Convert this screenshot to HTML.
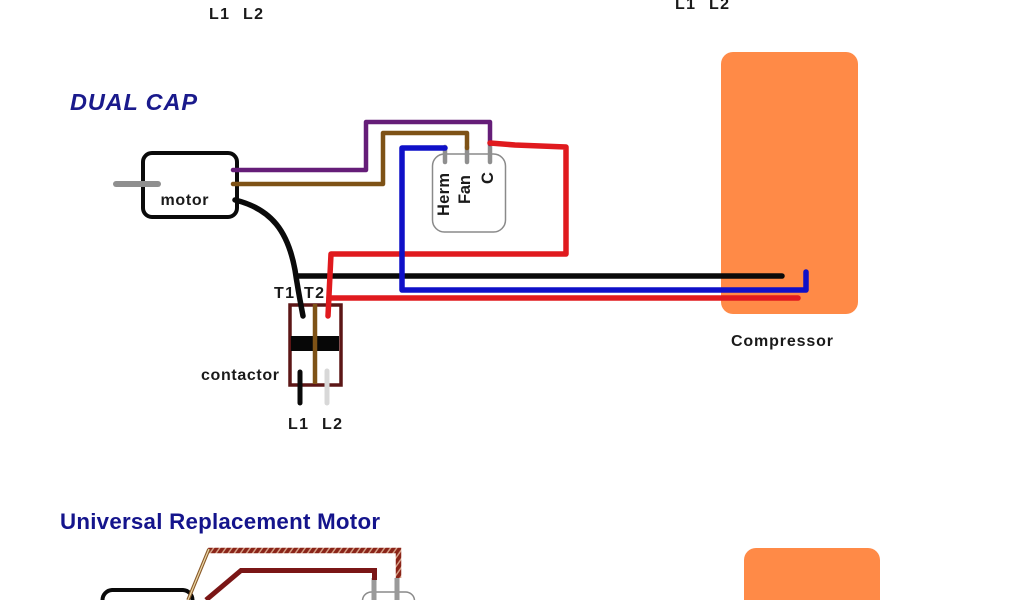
<!DOCTYPE html>
<html><head><meta charset="utf-8"><style>
html,body{margin:0;padding:0;background:#fff;width:1024px;height:600px;overflow:hidden}
svg{display:block}
text{font-family:"Liberation Sans",sans-serif;font-weight:bold;fill:#1a1a1a}
</style></head><body>
<svg width="1024" height="600" viewBox="0 0 1024 600" xmlns="http://www.w3.org/2000/svg">
<defs>
<pattern id="h" width="5" height="5" patternUnits="userSpaceOnUse" patternTransform="rotate(35)">
<rect width="5" height="5" fill="#d9a58c"/><rect width="3.6" height="5" fill="#8a2418"/>
</pattern>
</defs>
<rect width="1024" height="600" fill="#fff"/>
<g style="filter:blur(.35px)">
<!-- compressors -->
<rect x="721" y="52" width="137" height="262" rx="12" fill="#ff8a47"/>
<path d="M744 600V560a12 12 0 0 1 12-12H868a12 12 0 0 1 12 12V600Z" fill="#ff8a47"/>

<!-- top labels -->
<text x="209" y="19" font-size="16" textLength="20">L1</text>
<text x="243" y="19" font-size="16" textLength="20">L2</text>
<text x="675" y="9" font-size="16" textLength="20">L1</text>
<text x="709" y="9" font-size="16" textLength="20">L2</text>

<text x="70" y="110" font-size="23.500" style="fill:#1a1a8c;font-style:italic" textLength="127">DUAL CAP</text>

<!-- motor -->
<rect x="143" y="153" width="94" height="64" rx="9" fill="#fff" stroke="#0a0a0a" stroke-width="4"/>
<line x1="116" y1="184" x2="158" y2="184" stroke="#8f8f8f" stroke-width="6" stroke-linecap="round"/>
<text x="160.500" y="205" font-size="16" textLength="48">motor</text>

<!-- capacitor -->
<rect x="432.500" y="154" width="73" height="78" rx="12" fill="#fff" stroke="#8a8a8a" stroke-width="1.500"/>
<g stroke="#8f8f8f" stroke-width="4.500" stroke-linecap="round" fill="none">
<line x1="445" y1="147" x2="445" y2="162"/>
<line x1="467" y1="147" x2="467" y2="162"/>
<line x1="490" y1="143" x2="490" y2="162"/>
</g>
<text transform="translate(449,216) rotate(-90)" font-size="16.500" textLength="43">Herm</text>
<text transform="translate(470,204) rotate(-90)" font-size="16.500" textLength="29">Fan</text>
<text transform="translate(493,184) rotate(-90)" font-size="16.500">C</text>

<!-- contactor -->
<rect x="290" y="305" width="51" height="80" fill="#fff" stroke="#5c1616" stroke-width="3.500"/>
<rect x="291" y="336" width="48" height="15" fill="#070707"/>
<line x1="315" y1="304" x2="315" y2="384" stroke="#7e5216" stroke-width="4.500"/>
<line x1="300" y1="372" x2="300" y2="403" stroke="#0a0a0a" stroke-width="5" stroke-linecap="round"/>
<line x1="327" y1="371" x2="327" y2="403" stroke="#d8d8d8" stroke-width="5" stroke-linecap="round"/>
<text x="274" y="298" font-size="16" textLength="20">T1</text>
<text x="304" y="298" font-size="16" textLength="20">T2</text>
<text x="201" y="380" font-size="16" textLength="78">contactor</text>
<text x="288" y="429" font-size="16" textLength="20">L1</text>
<text x="322" y="429" font-size="16" textLength="20">L2</text>
<text x="731" y="346" font-size="16" textLength="102">Compressor</text>

<!-- wires -->
<g fill="none" stroke-linejoin="round" stroke-linecap="round">
<path d="M233 170H366V122H490V144" stroke="#651d78" stroke-width="4.500"/>
<path d="M233 184H383V133H467V148" stroke="#7e5216" stroke-width="4.500"/>
<path d="M235 200C272 209 288 232 295 270C298 290 300 300 303 316" stroke="#0a0a0a" stroke-width="5.500"/>
<path d="M297 276H782" stroke="#0a0a0a" stroke-width="5.500"/>
<path d="M490 143L515 145L566 147V254H331L328 316" stroke="#e01a1e" stroke-width="5.500"/>
<path d="M329 298H798" stroke="#e01a1e" stroke-width="5.500"/>
<path d="M445 148H402V290H806V272" stroke="#0f10c8" stroke-width="5.500"/>
</g>

<!-- bottom section -->
<text x="60" y="529" font-size="22.300" style="fill:#14148c" textLength="320">Universal Replacement Motor</text>
<path d="M102.500 600A10 10 0 0 1 112 590H183A10 10 0 0 1 192.500 600" fill="#fff" stroke="#0a0a0a" stroke-width="4"/>
<path d="M362.500 600A9 9 0 0 1 372 592H405A9 9 0 0 1 414.500 600" fill="#fff" stroke="#8a8a8a" stroke-width="1.500"/>
<g fill="none" stroke-linecap="butt" stroke-linejoin="miter">
<path d="M374 578V600M397 578V600" stroke="#9a9a9a" stroke-width="5"/>
<path d="M206 600L241 570.500H374.500V580" stroke="#7a1616" stroke-width="5"/>
<path d="M208 550.500H398.500V578" stroke="url(#h)" stroke-width="5.500"/>
<path d="M188 600L209 549" stroke="#8a5a2a" stroke-width="3.500"/>
<path d="M188 600L209 549" stroke="#ecd9a8" stroke-width="1.200"/>
</g>
</g>
</svg>
</body></html>
